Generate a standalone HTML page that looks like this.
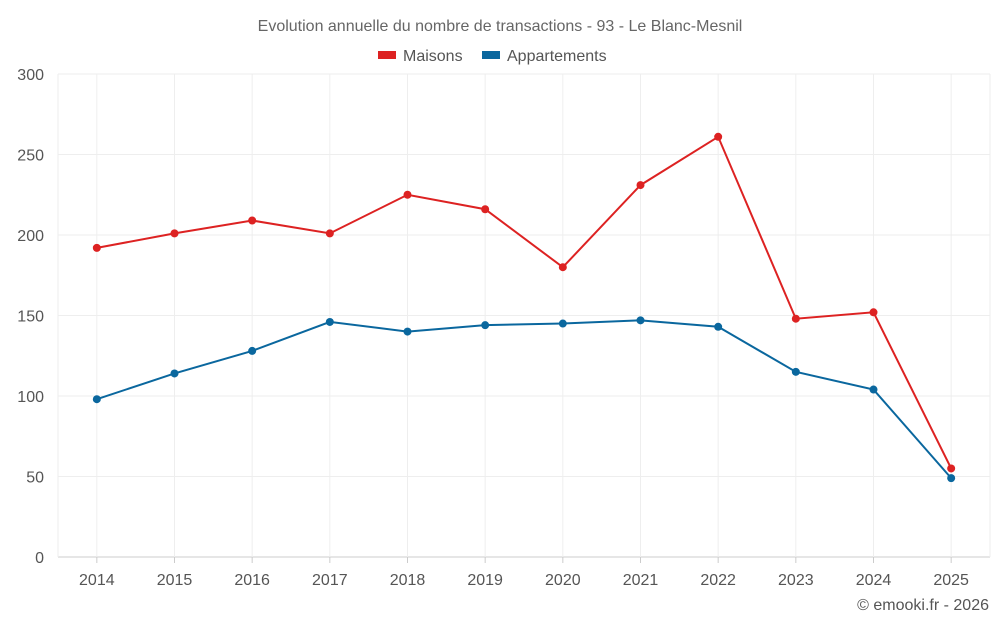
<!DOCTYPE html>
<html><head><meta charset="utf-8"><style>
body{margin:0;background:#fff;font-family:"Liberation Sans",sans-serif;}
svg text{font-family:"Liberation Sans",sans-serif;}
</style></head><body>
<svg id="chart" width="1000" height="625">
<text x="500" y="31" text-anchor="middle" font-size="16" fill="#666">Evolution annuelle du nombre de transactions - 93 - Le Blanc-Mesnil</text>
<g>
<g><rect x="378" y="51" width="18" height="8" fill="#dd2222"/><text x="403" y="61" font-size="16" fill="#555">Maisons</text></g>
<g><rect x="482" y="51" width="18" height="8" fill="#0a679e"/><text x="507" y="61" font-size="16" fill="#555">Appartements</text></g>
</g>
<g id="grid"></g><g id="axes"></g><g id="series"></g>
<text x="989" y="610" text-anchor="end" font-size="16" fill="#555">© emooki.fr - 2026</text>
</svg>
<script>
const years=[2014,2015,2016,2017,2018,2019,2020,2021,2022,2023,2024,2025];
const maisons=[192,201,209,201,225,216,180,231,261,148,152,55];
const appartements=[98,114,128,146,140,144,145,147,143,115,104,49];
const yTicks=[0,50,100,150,200,250,300];
const NS="http://www.w3.org/2000/svg";
const L=58,R=990,T=74,B=557;
const step=(R-L)/years.length;
function x(i){return L+step*(i+0.5);}
function y(v){return B-(v/300)*(B-T);}
function mk(tag,attrs,parent){const e=document.createElementNS(NS,tag);for(const k in attrs)e.setAttribute(k,attrs[k]);parent.appendChild(e);return e;}
const grid=document.getElementById('grid'),axes=document.getElementById('axes'),ser=document.getElementById('series');
yTicks.forEach(t=>{
 const l=mk('line',{x1:L,x2:R,y1:y(t),y2:y(t),stroke:t===0?'#ccc':'#eee'},grid);
 
 
 const tx=mk('text',{x:44,y:y(t)+6,'text-anchor':'end','font-size':16,fill:'#555'},axes);
 tx.textContent=t;
 
 
});
[L,R].forEach(px=>{
 const l=mk('line',{x1:px,x2:px,y1:T,y2:B,stroke:'#eee'},grid);
 
 
});
years.forEach((yr,i)=>{
 const g=mk('line',{x1:x(i),x2:x(i),y1:T,y2:B,stroke:'#eee'},grid);
 
 
 const tx=mk('text',{x:x(i),y:585,'text-anchor':'middle','font-size':16,fill:'#555'},axes);
 tx.textContent=yr;
 
 
 const tk=mk('line',{x1:x(i),x2:x(i),y1:B,y2:B+6,stroke:'#ccc'},axes);
 
 
});
function draw(vals,color,name){
 const p=mk('polyline',{points:vals.map((v,i)=>x(i)+','+y(v)).join(' '),fill:'none',stroke:color,'stroke-width':2},ser);
 
 
 vals.forEach((v,i)=>{
  const c=mk('circle',{cx:x(i),cy:y(v),r:4,fill:color},ser);
  
  
 });
}
draw(maisons,'#dd2222','maisons');
draw(appartements,'#0a679e','appartements');
</script>
</body></html>
